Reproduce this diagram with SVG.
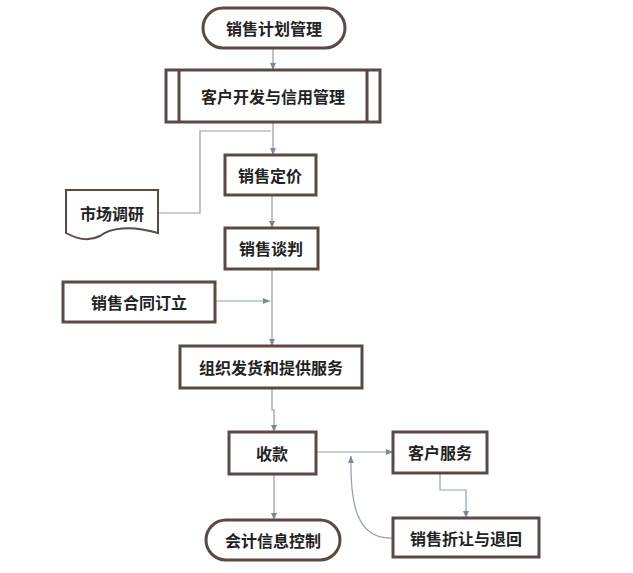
<svg xmlns="http://www.w3.org/2000/svg" width="633" height="573" viewBox="0 0 633 573">
<style>
.n{fill:#fff;stroke:#5a4a42;stroke-width:3}
.t{font-family:"Noto Sans CJK SC",sans-serif;font-size:16px;font-weight:bold;fill:#222;text-anchor:middle;dominant-baseline:central}
.c{fill:none;stroke:#999;stroke-width:1.2}
.b{fill:none;stroke:#8ca0b4;stroke-width:1.2}
</style>
<defs>
<marker id="a" markerWidth="8" markerHeight="8" refX="7" refY="4" orient="auto" markerUnits="userSpaceOnUse"><path d="M0,1 L7,4 L0,7z" fill="#7a8a9a"/></marker>
</defs>
<rect width="633" height="573" fill="#fff"/>
<g id="connectors">
<path class="c" d="M273,48 V70" marker-end="url(#a)"/>
<path class="c" d="M273,122 V155" marker-end="url(#a)"/>
<path class="c" d="M158,213 H200 V131 H271"/>
<path class="c" d="M272,195 V228" marker-end="url(#a)"/>
<path class="c" d="M272,269 V346" marker-end="url(#a)"/>
<path class="b" d="M215,301 H270" marker-end="url(#a)"/>
<path class="c" d="M272,388 V410 H274 V432" marker-end="url(#a)"/>
<path class="c" d="M274,474 V520" marker-end="url(#a)"/>
<path class="b" d="M316,452 H393" marker-end="url(#a)"/>
<path class="b" d="M440,473 V490 H466 V518" marker-end="url(#a)"/>
<path class="b" d="M393,538 C355,540 350,500 351,456" marker-end="url(#a)"/>
</g>
<g id="n1"><rect class="n" x="203" y="8" width="142" height="40" rx="20"/><text class="t" x="274" y="28">销售计划管理</text></g>
<g id="n2"><rect class="n" x="166" y="70" width="214" height="52"/><path class="n" d="M179,70V122M367,70V122"/><text class="t" x="273" y="96" font-weight="normal">客户开发与信用管理</text></g>
<g id="n3"><rect class="n" x="225" y="155" width="91" height="40"/><text class="t" x="270" y="175">销售定价</text></g>
<g id="n4"><path class="n" style="stroke-width:2" d="M66,190 H158 V233 C130,225 110,228 100,236 C88,242 75,238 66,233Z"/><text class="t" x="112" y="213">市场调研</text></g>
<g id="n5"><rect class="n" x="225" y="228" width="93" height="41"/><text class="t" x="271" y="248">销售谈判</text></g>
<g id="n6"><rect class="n" x="63" y="282" width="152" height="40"/><text class="t" x="139" y="302">销售合同订立</text></g>
<g id="n7"><rect class="n" x="180" y="346" width="182" height="42"/><text class="t" x="271" y="367">组织发货和提供服务</text></g>
<g id="n8"><rect class="n" x="229" y="432" width="87" height="42"/><text class="t" x="272" y="453">收款</text></g>
<g id="n9"><rect class="n" x="393" y="432" width="94" height="41"/><text class="t" x="440" y="452" font-weight="normal">客户服务</text></g>
<g id="n10"><rect class="n" x="393" y="518" width="146" height="39"/><text class="t" x="466" y="538">销售折让与退回</text></g>
<g id="n11"><rect class="n" x="206" y="520" width="134" height="40" rx="20"/><text class="t" x="273" y="540">会计信息控制</text></g>
</svg>
